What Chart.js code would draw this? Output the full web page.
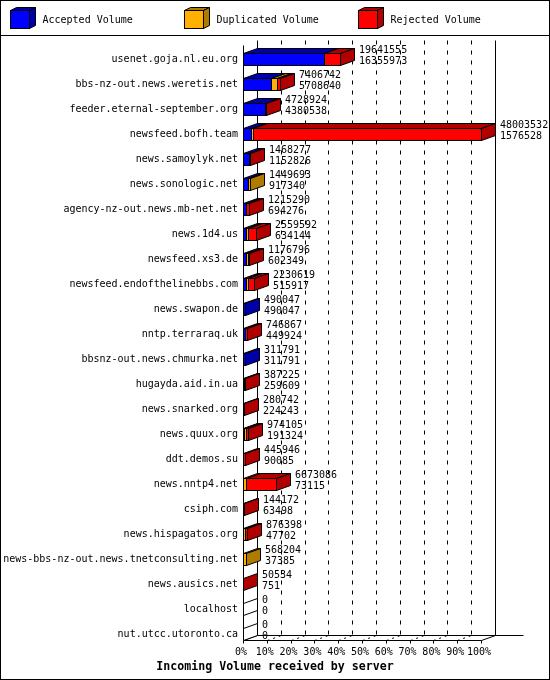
<!DOCTYPE html>
<html>
<head>
<meta charset="utf-8">
<script src="https://cdn.jsdelivr.net/npm/chart.js@4/dist/chart.umd.min.js"></script>
<style>
  html, body { margin: 0; padding: 0; background: #fff; }
  canvas { display: block; }
</style>
</head>
<body>
<canvas id="c" width="550" height="680"></canvas>
<script>
const categories = [
  'usenet.goja.nl.eu.org',
  'bbs-nz-out.news.weretis.net',
  'feeder.eternal-september.org',
  'newsfeed.bofh.team',
  'news.samoylyk.net',
  'news.sonologic.net',
  'agency-nz-out.news.mb-net.net',
  'news.1d4.us',
  'newsfeed.xs3.de',
  'newsfeed.endofthelinebbs.com',
  'news.swapon.de',
  'nntp.terraraq.uk',
  'bbsnz-out.news.chmurka.net',
  'hugayda.aid.in.ua',
  'news.snarked.org',
  'news.quux.org',
  'ddt.demos.su',
  'news.nntp4.net',
  'csiph.com',
  'news.hispagatos.org',
  'news-bbs-nz-out.news.tnetconsulting.net',
  'news.ausics.net',
  'localhost',
  'nut.utcc.utoronto.ca'
];
const totalVolume = [19641555, 7406742, 4728924, 48003532, 1468277, 1449693, 1215290, 2559592, 1176796, 2230619,
  490047, 746867, 311791, 387225, 280742, 974105, 445946, 6673086, 144172, 876398, 568204, 50534, 0, 0];
const acceptedVolume = [16355973, 5708640, 4380538, 1576528, 1152826, 917340, 694276, 634144, 602349, 515917,
  490047, 449924, 311791, 259609, 224243, 191324, 90085, 73115, 63498, 47702, 37385, 751, 0, 0];
const duplicatedVolume = [0, 1200000, 150000, 400000, 100000, 532353, 0, 450000, 350000, 500000,
  0, 0, 0, 0, 0, 500000, 0, 550000, 0, 300000, 530819, 0, 0, 0];
const rejectedVolume = [3285582, 498102, 198386, 46027004, 215451, 0, 521014, 1475448, 224447, 1214702,
  0, 296943, 0, 127616, 56499, 282781, 355861, 6049971, 80674, 528696, 0, 49783, 0, 0];
const percentTicks = [0, 10, 20, 30, 40, 50, 60, 70, 80, 90, 100];
const seriesNames = ['Accepted Volume', 'Duplicated Volume', 'Rejected Volume'];

const maxTotal = Math.max(...totalVolume);
const pct = arr => arr.map(v => v / maxTotal * 100);

const FRONT = ['#0000ff', '#ffb000', '#ff0000'];
const DARK = ['#0000a8', '#b07c00', '#b00000'];
const DX = 14, DY = 5;
const FONT = '"DejaVu Sans Mono", "Liberation Mono", monospace';

function px(v) { return Math.round(v) + 0.5; }

function poly(ctx, pts, fill) {
  ctx.beginPath();
  ctx.moveTo(pts[0][0], pts[0][1]);
  for (let i = 1; i < pts.length; i++) ctx.lineTo(pts[i][0], pts[i][1]);
  ctx.closePath();
  if (fill) { ctx.fillStyle = fill; ctx.fill(); }
  ctx.strokeStyle = '#000';
  ctx.lineWidth = 1;
  ctx.stroke();
}
function line(ctx, x1, y1, x2, y2, dash) {
  ctx.save();
  ctx.beginPath();
  ctx.setLineDash(dash || []);
  ctx.moveTo(x1, y1); ctx.lineTo(x2, y2);
  ctx.strokeStyle = '#000'; ctx.lineWidth = 1;
  ctx.stroke();
  ctx.restore();
}

const frame3d = {
  id: 'frame3d',
  beforeDatasetsDraw(chart) {
    const ctx = chart.ctx;
    const xs = chart.scales.x;
    const a = chart.chartArea;
    const L = px(xs.getPixelForValue(0)), R = px(xs.getPixelForValue(100));
    const frontTop = Math.round(a.top - 1.5) + 0.5;
    const backTop = Math.round(a.top - 6.5) + 0.5;
    const frontFloor = Math.round(a.bottom - 6.5) + 0.5;
    const backFloor = frontFloor - DY;
    ctx.save();
    percentTicks.forEach(t => {
      const x = px(xs.getPixelForValue(t));
      if (t > 0 && t < 100) {
        line(ctx, x + DX, backTop, x + DX, backFloor, [4, 6]);
        line(ctx, x, frontFloor, x + DX, backFloor, [2, 4]);
      }
      line(ctx, x, frontFloor, x, frontFloor + 3);
    });
    line(ctx, L, frontTop, L, frontFloor);
    line(ctx, L + DX, backTop, L + DX, backFloor);
    line(ctx, R + DX, backTop, R + DX, backFloor);
    line(ctx, L, frontFloor, R, frontFloor);
    line(ctx, L, frontFloor, L + DX, backFloor);
    line(ctx, R, frontFloor, R + DX, backFloor);
    line(ctx, L + DX, backFloor, R + 3 * DX, backFloor);
    ctx.restore();
  },
  afterDatasetsDraw(chart) {
    const ctx = chart.ctx;
    const metas = [0, 1, 2].map(i => chart.getDatasetMeta(i));
    const raw = [acceptedVolume, duplicatedVolume, rejectedVolume];
    ctx.save();
    categories.forEach((cat, i) => {
      const el0 = metas[0].data[i];
      const yc = el0.y;
      const yt = Math.round(yc - 6) + 0.5;
      const yb = Math.round(yc + 6) + 0.5;
      let lastIdx = -1;
      let endX = px(el0.base);
      for (let d = 0; d < 3; d++) {
        const el = metas[d].data[i];
        if (raw[d][i] <= 0) continue;
        lastIdx = d;
        const x0 = px(el.base), x1 = px(el.x);
        endX = x1;
        if (x1 - x0 >= 1) {
          poly(ctx, [[x0, yt], [x1, yt], [x1 + DX, yt - DY], [x0 + DX, yt - DY]], DARK[d]);
          ctx.fillStyle = FRONT[d];
          ctx.fillRect(x0, yt, x1 - x0, yb - yt);
          ctx.strokeStyle = '#000';
          ctx.lineWidth = 1;
          ctx.strokeRect(x0, yt, x1 - x0, yb - yt);
        }
      }
      const sideFill = lastIdx >= 0 ? DARK[lastIdx] : '#ffffff';
      poly(ctx, [[endX, yt], [endX + DX, yt - DY], [endX + DX, yb - DY], [endX, yb]], sideFill);
      ctx.fillStyle = '#000';
      ctx.font = '10px ' + FONT;
      ctx.textAlign = 'left';
      ctx.textBaseline = 'middle';
      const tx = endX + DX + 4.5;
      ctx.fillText(String(totalVolume[i]), tx, yc - 9);
      ctx.fillText(String(acceptedVolume[i]), tx, yc + 2);
    });
    ctx.restore();
  },
  afterDraw(chart) {
    const ctx = chart.ctx;
    ctx.save();
    ctx.strokeStyle = '#000';
    ctx.lineWidth = 1;
    ctx.strokeRect(0.5, 0.5, chart.width - 1, chart.height - 1);
    line(ctx, 0, 35.5, chart.width, 35.5);
    chart.data.datasets.forEach((ds, d) => {
      const x = 10.5 + 174 * d;
      const t = 10.5, b = 28.5, w = 19, ldx = 6, ldy = 3;
      poly(ctx, [[x, t], [x + w, t], [x + w + ldx, t - ldy], [x + ldx, t - ldy]], DARK[d]);
      poly(ctx, [[x + w, t], [x + w + ldx, t - ldy], [x + w + ldx, b - ldy], [x + w, b]], DARK[d]);
      ctx.fillStyle = FRONT[d];
      ctx.fillRect(x, t, w, b - t);
      ctx.strokeRect(x, t, w, b - t);
      ctx.fillStyle = '#000';
      ctx.font = '10px ' + FONT;
      ctx.textAlign = 'left';
      ctx.textBaseline = 'middle';
      ctx.fillText(ds.label, x + 32, 20);
    });
    ctx.restore();
  }
};

const tickFont = { family: FONT, size: 10 };

new Chart(document.getElementById('c'), {
  type: 'bar',
  data: {
    labels: categories,
    datasets: [
      { label: seriesNames[0], data: pct(acceptedVolume), backgroundColor: 'rgba(0,0,0,0)', borderWidth: 0 },
      { label: seriesNames[1], data: pct(duplicatedVolume), backgroundColor: 'rgba(0,0,0,0)', borderWidth: 0 },
      { label: seriesNames[2], data: pct(rejectedVolume), backgroundColor: 'rgba(0,0,0,0)', borderWidth: 0 }
    ]
  },
  options: {
    indexAxis: 'y',
    responsive: false,
    animation: false,
    devicePixelRatio: 1,
    barThickness: 12,
    layout: { padding: { top: 46.5, bottom: 6, left: 0, right: 0 } },
    plugins: {
      legend: { display: false },
      tooltip: { enabled: false },
      title: {
        display: true,
        position: 'bottom',
        text: 'Incoming Volume received by server',
        color: '#000',
        padding: 0,
        font: { family: FONT, size: 11.6, weight: 'bold', lineHeight: 14 / 11.6 }
      }
    },
    scales: {
      x: {
        stacked: true,
        min: 0,
        max: 100,
        afterFit(s) { s.height = 13.5; },
        afterBuildTicks(s) { s.ticks = percentTicks.map(v => ({ value: v })); },
        ticks: {
          callback: v => v + '%',
          font: tickFont,
          color: '#000',
          padding: 0,
          labelOffset: -2,
          maxRotation: 0,
          autoSkip: false
        },
        grid: { display: false, drawTicks: false },
        border: { display: false }
      },
      y: {
        stacked: true,
        afterFit(s) { s.width = 243; },
        ticks: { font: tickFont, color: '#000', padding: 5, autoSkip: false },
        grid: { display: false, drawTicks: false },
        border: { display: false }
      },
      yRight: {
        type: 'category',
        position: 'right',
        labels: categories,
        afterFit(s) { s.width = 69; },
        ticks: { display: false },
        grid: { display: false, drawTicks: false },
        border: { display: false }
      }
    }
  },
  plugins: [frame3d]
});
</script>
</body>
</html>
